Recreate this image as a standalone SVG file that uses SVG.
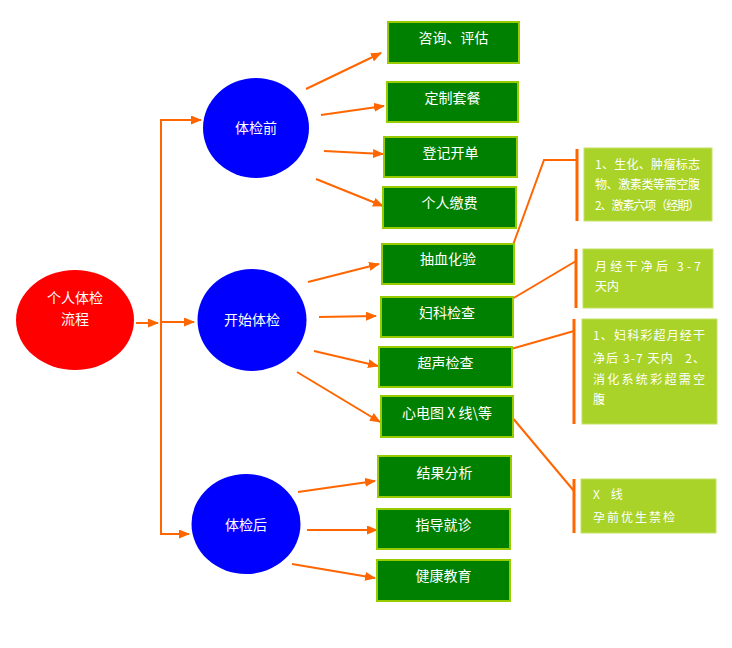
<svg xmlns="http://www.w3.org/2000/svg" width="732" height="648" viewBox="0 0 732 648">
<style>
.t{font-family:"Noto Sans CJK SC","Liberation Sans",sans-serif;fill:#fff}
.tt{font-size:14px;text-anchor:middle}
.ct{font-size:12px}
.box{fill:#008000;stroke:#99cc00;stroke-width:2}
.note{fill:#a9d328;stroke:#c2e264;stroke-width:1}
.con{stroke:#ff6600;stroke-width:2;fill:none}
.br{stroke:#ff6600;stroke-width:3;fill:none}
</style>
<defs>
<marker id="ah" markerUnits="userSpaceOnUse" markerWidth="11" markerHeight="9" refX="10" refY="4.5" orient="auto">
<path d="M0,0 L11,4.5 L0,9 z" fill="#ff6600"/>
</marker>
</defs>
<rect width="732" height="648" fill="#fff"/>

<g id="connectors">
<line class="con" x1="136" y1="323" x2="158" y2="323" marker-end="url(#ah)"/>
<polyline class="con" points="201,120 161,120 161,534 189,534" marker-end="url(#ah)"/>
<line class="con" x1="190" y1="120" x2="201" y2="120" marker-end="url(#ah)"/>
<line class="con" x1="161" y1="322" x2="194" y2="322" marker-end="url(#ah)"/>
<line class="con" x1="306" y1="89" x2="381" y2="53" marker-end="url(#ah)"/>
<line class="con" x1="321" y1="115" x2="384" y2="106" marker-end="url(#ah)"/>
<line class="con" x1="324" y1="151" x2="383" y2="154" marker-end="url(#ah)"/>
<line class="con" x1="316" y1="179" x2="383" y2="206" marker-end="url(#ah)"/>
<line class="con" x1="308" y1="282" x2="379" y2="264" marker-end="url(#ah)"/>
<line class="con" x1="319" y1="317" x2="376" y2="316" marker-end="url(#ah)"/>
<line class="con" x1="314" y1="351" x2="378" y2="366" marker-end="url(#ah)"/>
<line class="con" x1="297" y1="372" x2="380" y2="422" marker-end="url(#ah)"/>
<line class="con" x1="298" y1="492" x2="375" y2="481" marker-end="url(#ah)"/>
<line class="con" x1="307" y1="530" x2="377" y2="530" marker-end="url(#ah)"/>
<line class="con" x1="292" y1="564" x2="375" y2="578" marker-end="url(#ah)"/>
<polyline class="con" points="513,245 544,160 577,160"/>
<line class="con" x1="512" y1="299" x2="576" y2="261"/>
<line class="con" x1="511" y1="349" x2="574" y2="331"/>
<line class="con" x1="511" y1="416" x2="574" y2="491"/>
<line class="br" x1="577" y1="149" x2="577" y2="221"/>
<line class="br" x1="576" y1="249" x2="576" y2="308"/>
<line class="br" x1="574" y1="319" x2="574" y2="424"/>
<line class="br" x1="574" y1="479" x2="574" y2="533"/>
</g>

<g id="root">
<ellipse cx="75" cy="320" rx="59" ry="50" fill="#ff0000"/>
<text class="t tt" x="75" y="303">个人体检</text>
<text class="t tt" x="75" y="324">流程</text>
</g>

<g id="before">
<ellipse cx="256" cy="128" rx="53" ry="50" fill="#0000ff"/>
<text class="t tt" x="256" y="133">体检前</text>
</g>
<g id="during">
<ellipse cx="252" cy="320" rx="54.5" ry="51" fill="#0000ff"/>
<text class="t tt" x="252" y="325">开始体检</text>
</g>
<g id="after">
<ellipse cx="246" cy="524" rx="54.5" ry="50" fill="#0000ff"/>
<text class="t tt" x="246" y="530">体检后</text>
</g>

<g id="b1"><rect class="box" x="388" y="22" width="131" height="41"/><text class="t tt" x="453.5" y="43">咨询、评估</text></g>
<g id="b2"><rect class="box" x="387" y="82" width="131" height="40"/><text class="t tt" x="452.5" y="103">定制套餐</text></g>
<g id="b3"><rect class="box" x="384" y="137" width="133" height="40"/><text class="t tt" x="450.5" y="158">登记开单</text></g>
<g id="b4"><rect class="box" x="383" y="187" width="133" height="41"/><text class="t tt" x="449.5" y="208">个人缴费</text></g>
<g id="b5"><rect class="box" x="382" y="244" width="132" height="40"/><text class="t tt" x="448" y="264">抽血化验</text></g>
<g id="b6"><rect class="box" x="381" y="297" width="132" height="40"/><text class="t tt" x="447" y="318">妇科检查</text></g>
<g id="b7"><rect class="box" x="379" y="347" width="133" height="40"/><text class="t tt" x="445.5" y="368">超声检查</text></g>
<g id="b8"><rect class="box" x="381" y="396" width="132" height="41"/><text class="t tt" x="447" y="418">心电图 X 线\等</text></g>
<g id="b9"><rect class="box" x="378" y="456" width="133" height="41"/><text class="t tt" x="444.5" y="478">结果分析</text></g>
<g id="b10"><rect class="box" x="377" y="509" width="133" height="40"/><text class="t tt" x="443.5" y="530">指导就诊</text></g>
<g id="b11"><rect class="box" x="377" y="560" width="133" height="41"/><text class="t tt" x="443.5" y="581">健康教育</text></g>

<g id="n1">
<rect class="note" x="584" y="148" width="128" height="73"/>
<text class="t ct" x="595" y="168.5" textLength="105" lengthAdjust="spacing">1、生化、肿瘤标志</text>
<text class="t ct" x="595" y="188.5" textLength="105" lengthAdjust="spacing">物、激素类等需空腹</text>
<text class="t ct" x="595" y="209.5" textLength="105" lengthAdjust="spacing">2、激素六项（经期）</text>
</g>
<g id="n2">
<rect class="note" x="583" y="249" width="130" height="59"/>
<text class="t ct" x="595" y="270.5" textLength="106" lengthAdjust="spacing">月经干净后 3-7</text>
<text class="t ct" x="595" y="290.5">天内</text>
</g>
<g id="n3">
<rect class="note" x="582" y="319" width="135" height="105"/>
<text class="t ct" x="593" y="339.5" textLength="112" lengthAdjust="spacing">1、妇科彩超月经干</text>
<text class="t ct" x="593" y="362.5" textLength="112" lengthAdjust="spacing" style="white-space:pre">净后 3-7 天内   2、</text>
<text class="t ct" x="593" y="383.5" textLength="112" lengthAdjust="spacing">消化系统彩超需空</text>
<text class="t ct" x="593" y="403.5">腹</text>
</g>
<g id="n4">
<rect class="note" x="581" y="479" width="135" height="54"/>
<text class="t ct" x="593" y="498.5" style="white-space:pre">X    线</text>
<text class="t ct" x="593" y="521.5" textLength="82" lengthAdjust="spacing">孕前优生禁检</text>
</g>
</svg>
